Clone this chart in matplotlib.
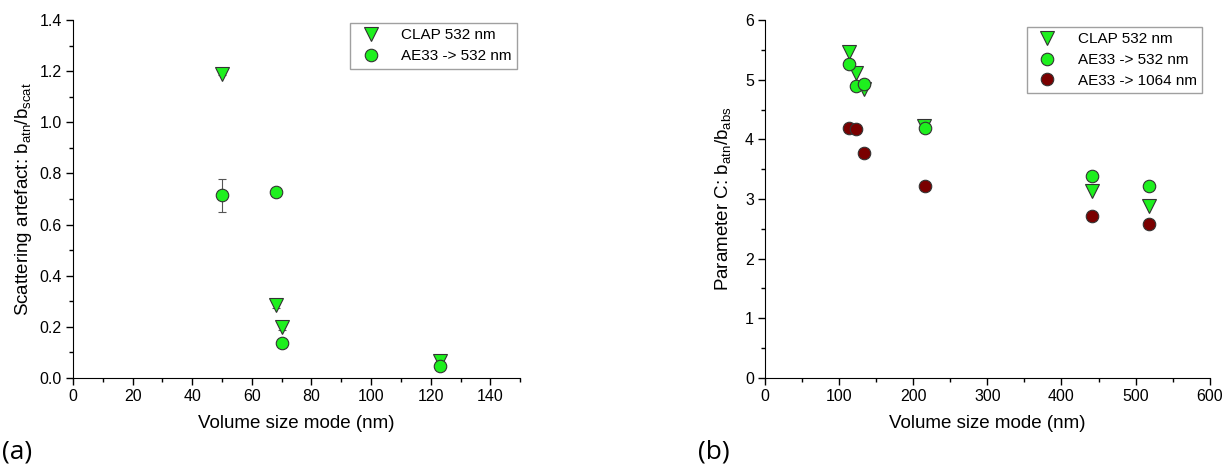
import matplotlib
matplotlib.use('Agg')
import matplotlib.pyplot as plt
from matplotlib.ticker import MultipleLocator, FormatStrFormatter

plt.rcParams['font.family'] = ['Liberation Sans', 'DejaVu Sans']

# panel (a) data
size_a_clap = [50, 68, 70, 123]
art_clap = [1.19, 0.285, 0.20, 0.065]
art_clap_err = [0.005, 0.01, 0.012, 0.01]
size_a_ae = [50, 68, 70, 123]
art_ae = [0.715, 0.727, 0.137, 0.048]
art_ae_err = [0.065, 0.012, 0.012, 0.012]

# panel (b) data
size_b = [113, 123, 133, 215, 441, 518]
c_clap = [5.47, 5.12, 4.85, 4.22, 3.13, 2.88]
size_b_ae = [113, 123, 133, 216, 441, 518]
c_ae532 = [5.26, 4.90, 4.92, 4.19, 3.38, 3.21]
c_ae1064 = [4.19, 4.17, 3.77, 3.22, 2.72, 2.58]

green = '#1EF01E'
darkred = '#7A0000'
edge = '#333333'

fig = plt.figure(figsize=(12.25, 4.66), dpi=100)
ax1 = fig.add_axes([0.0596, 0.189, 0.365, 0.768])
ax2 = fig.add_axes([0.6245, 0.189, 0.363, 0.768])

def style(ax):
    for s in ['top', 'right']:
        ax.spines[s].set_visible(False)
    ax.tick_params(which='both', direction='out', labelsize=11.5, width=1, pad=3)
    ax.tick_params(which='major', length=5)
    ax.tick_params(which='minor', length=3)

ax1.errorbar(size_a_clap, art_clap, yerr=art_clap_err, fmt='v', ms=10, mfc=green, mec=edge,
             mew=0.8, ecolor='#555555', elinewidth=0.8, capsize=3, label='CLAP 532 nm')
ax1.errorbar(size_a_ae, art_ae, yerr=art_ae_err, fmt='o', ms=9, mfc=green, mec=edge,
             mew=0.8, ecolor='#555555', elinewidth=0.8, capsize=3, label='AE33 -> 532 nm')
ax1.set_xlim(0, 150)
ax1.set_ylim(0, 1.4)
ax1.xaxis.set_major_locator(MultipleLocator(20))
ax1.xaxis.set_minor_locator(MultipleLocator(10))
ax1.yaxis.set_major_locator(MultipleLocator(0.2))
ax1.yaxis.set_minor_locator(MultipleLocator(0.1))
ax1.yaxis.set_major_formatter(FormatStrFormatter('%.1f'))
ax1.set_xlabel('Volume size mode (nm)', fontsize=13.5, labelpad=8)
ax1.set_ylabel(r'Scattering artefact: b$_{\mathregular{atn}}$/b$_{\mathregular{scat}}$', fontsize=13.5, labelpad=4)
style(ax1)
h, l = ax1.get_legend_handles_labels()
h = [x[0] for x in h]
ax1.legend(h, l, loc='upper right', fontsize=11, fancybox=False, edgecolor='#888888',
           borderaxespad=0.2, handletextpad=1.0, borderpad=0.35, labelspacing=0.45)

ax2.plot(size_b, c_clap, 'v', ms=10, mfc=green, mec=edge, mew=0.8, label='CLAP 532 nm')
ax2.plot(size_b_ae, c_ae532, 'o', ms=9, mfc=green, mec=edge, mew=0.8, label='AE33 -> 532 nm')
ax2.plot(size_b_ae, c_ae1064, 'o', ms=9, mfc=darkred, mec=edge, mew=0.8, label='AE33 -> 1064 nm')
ax2.set_xlim(0, 600)
ax2.set_ylim(0, 6)
ax2.xaxis.set_major_locator(MultipleLocator(100))
ax2.xaxis.set_minor_locator(MultipleLocator(50))
ax2.yaxis.set_major_locator(MultipleLocator(1))
ax2.yaxis.set_minor_locator(MultipleLocator(0.5))
ax2.set_xlabel('Volume size mode (nm)', fontsize=13.5, labelpad=8)
ax2.set_ylabel(r'Parameter C: b$_{\mathregular{atn}}$/b$_{\mathregular{abs}}$', fontsize=13.5, labelpad=8)
style(ax2)
ax2.legend(loc='upper right', fontsize=11, fancybox=False, edgecolor='#888888',
           borderaxespad=0.2, handletextpad=1.0, borderpad=0.35, labelspacing=0.45,
           bbox_to_anchor=(0.99, 0.99))

fig.text(0.002, 0.004, '(a)', fontsize=19, family='Open Sans', va='bottom')
fig.text(0.57, 0.004, '(b)', fontsize=19, family='Open Sans', va='bottom')

plt.savefig('out.png', dpi=100)
